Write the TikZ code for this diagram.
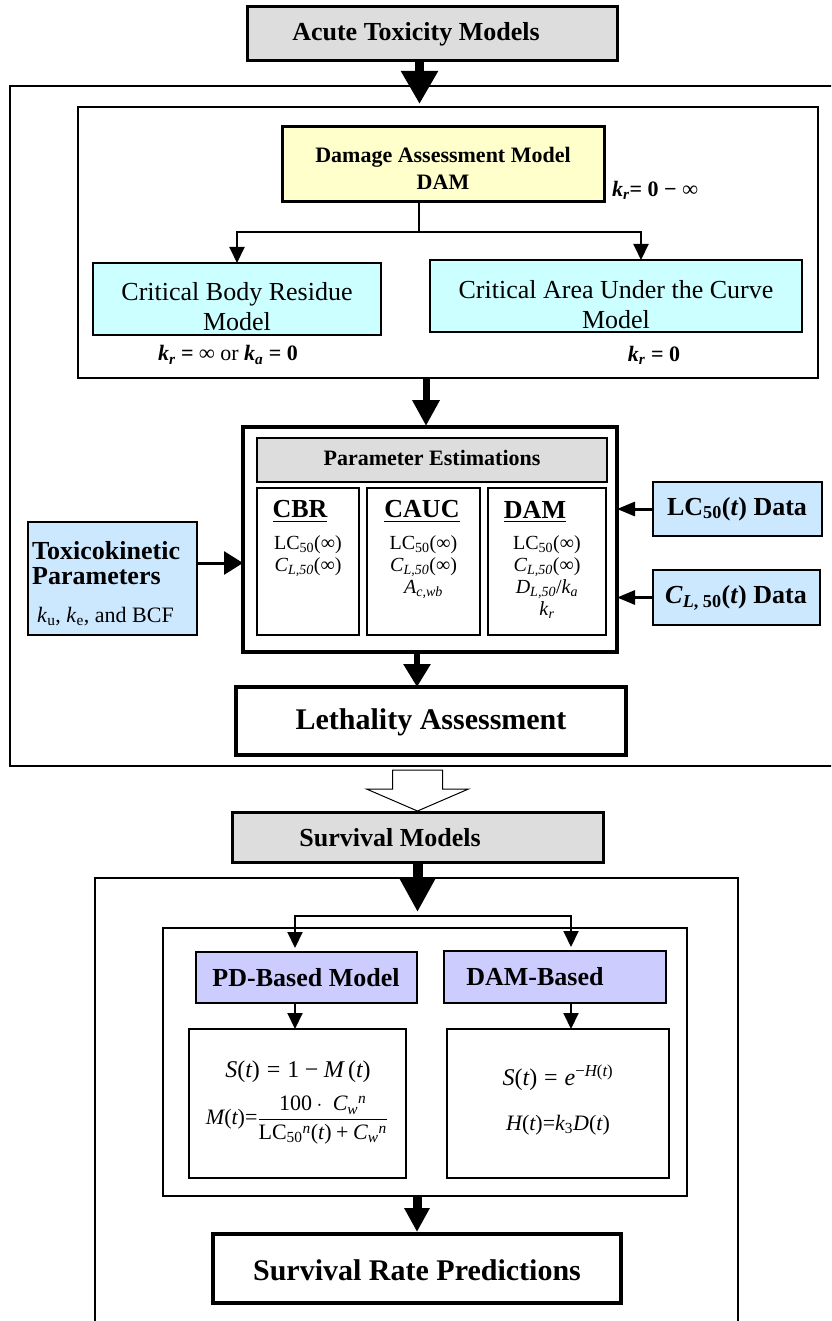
\documentclass[tikz,border=0pt]{standalone}
\usepackage{amsmath}
\usepackage{fontspec}
\setmainfont{Liberation Serif}
\usetikzlibrary{arrows.meta,calc}
\definecolor{boxgray}{RGB}{221,221,221}
\definecolor{boxyellow}{RGB}{255,255,204}
\definecolor{boxcyan}{RGB}{204,255,255}
\definecolor{boxblue}{RGB}{204,232,255}
\definecolor{boxlav}{RGB}{204,204,255}
\newcommand{\fs}[2]{\fontsize{#1}{#2}\selectfont}
\newcommand{\tu}[1]{\text{\upshape #1}}
\tikzset{
  box/.style={draw, inner sep=0pt, outer sep=0pt},
  txt/.style={inner sep=0pt, outer sep=0pt, align=center},
  conn/.style={line width=2pt},
  arrS/.style={-{Triangle[width=15pt,length=16pt]}},
  side/.style={line width=3pt},
}
\begin{document}
\begin{tikzpicture}[x=1pt,y=-1pt]
\useasboundingbox (0,0) rectangle (831,1321);
\begin{scope}
\clip (0,0) rectangle (831,1321);
% ---------- upper part ----------
\node[box, line width=3pt, fill=boxgray, minimum width=370pt, minimum height=54pt] (acute) at (432,34) {};
\node[txt, font=\fs{26}{30}\bfseries] (acuteT) at (416,34) {Acute Toxicity Models};

\node[box, line width=2pt, minimum width=850pt, minimum height=680pt] (frameA) at (435,426) {};
\node[box, line width=1.6pt, minimum width=740pt, minimum height=271pt] (frameB) at (448,242.5) {};

\draw[line width=9pt, -{Triangle[width=35pt,length=33pt]}, shorten >=3pt] ([xshift=-12.5pt]acute.south) -- ([xshift=-28.5pt]frameB.north);

\node[box, line width=3pt, fill=boxyellow, minimum width=322pt, minimum height=75pt] (dam) at (443,164.5) {};
\node[txt, font=\fs{22}{27}\bfseries] (damT) at (443,168) {Damage Assessment Model\\DAM};
\node[txt, font=\fs{22}{26}\bfseries] (krA) at (655,190) {\textit{k}\textsubscript{\textit{r}}= 0 − ∞};

\node[box, line width=2pt, fill=boxcyan, minimum width=288pt, minimum height=72pt] (cbr) at (237,299) {};
\node[txt, font=\fs{26}{30}] (cbrT) at (237,307) {Critical Body Residue\\Model};
\node[box, line width=2pt, fill=boxcyan, minimum width=372pt, minimum height=72pt] (cauc) at (616,296) {};
\node[txt, font=\fs{26}{30}] (caucT) at (616,305) {Critical Area Under the Curve\\Model};
\node[txt, font=\fs{22}{26}\bfseries] (krB) at (228,355) {\textit{k}\textsubscript{\textit{r}} = ∞ \textmd{or} \textit{k}\textsubscript{\textit{a}} = 0};
\node[txt, font=\fs{22}{26}\bfseries] (krC) at (654,355) {\textit{k}\textsubscript{\textit{r}} = 0};

\draw[conn] ([xshift=-24pt]dam.south) -- ++(0,30) coordinate (dj);
\draw[conn, arrS] (dj) -| (cbr.north);
\draw[conn, arrS] (dj) -| ([xshift=25pt]cauc.north);

% parameter estimation block
\node[box, line width=4pt, minimum width=374pt, minimum height=225pt] (param) at (430,539.5) {};
\node[box, line width=1.5pt, fill=boxgray, minimum width=350pt, minimum height=44pt] (pest) at (432,460) {};
\node[txt, font=\fs{22}{26}\bfseries] (pestT) at (432,458) {Parameter Estimations};
\node[box, line width=2.5pt, minimum width=102pt, minimum height=147pt] (subA) at (308,561.5) {};
\node[box, line width=2.5pt, minimum width=113pt, minimum height=147pt] (subB) at (423.5,561.5) {};
\node[box, line width=2.5pt, minimum width=118pt, minimum height=147pt] (subC) at (547,561.5) {};
\node[txt, font=\fs{26}{30}\bfseries] (hA) at (300,512) {\underline{CBR}};
\node[txt, font=\fs{26}{30}\bfseries] (hB) at (422,512) {\underline{CAUC}};
\node[txt, font=\fs{26}{30}\bfseries] (hC) at (535,512) {\underline{DAM}};
\node[txt, font=\fs{20}{22}, anchor=north] (cA) at (308,536) {LC\textsubscript{50}(∞)\\\textit{C}\textsubscript{\textit{L,50}}(∞)};
\node[txt, font=\fs{20}{22}, anchor=north] (cB) at (423.5,536) {LC\textsubscript{50}(∞)\\\textit{C}\textsubscript{\textit{L,50}}(∞)\\\textit{A}\textsubscript{\textit{c,wb}}};
\node[txt, font=\fs{20}{22}, anchor=north] (cC) at (547,536) {LC\textsubscript{50}(∞)\\\textit{C}\textsubscript{\textit{L,50}}(∞)\\\textit{D}\textsubscript{\textit{L,50}}/\textit{k}\textsubscript{\textit{a}}\\\textit{k}\textsubscript{\textit{r}}};

\draw[line width=7pt, -{Triangle[width=26pt,length=26pt]}, shorten >=1pt] ([xshift=-22pt]frameB.south) -- ([xshift=-4pt]param.north);

% toxicokinetic
\node[box, line width=1.5pt, fill=boxblue, minimum width=169pt, minimum height=113pt] (toxi) at (112.5,578.5) {};
\node[inner sep=0pt, anchor=base west, font=\fs{26}{30}\bfseries] (toxiA) at (32,559) {Toxicokinetic};
\node[inner sep=0pt, anchor=base west, font=\fs{26}{30}\bfseries] (toxiB) at (32,584) {Parameters};
\node[inner sep=0pt, anchor=base west, font=\fs{22}{26}] (toxiC) at (37,622) {\textit{k}\textsubscript{u}, \textit{k}\textsubscript{e}, and BCF};
\draw[side, -{Triangle[width=23pt,length=19pt]}] ([yshift=15.5pt]toxi.east) -- ([yshift=15.5pt]toxi.east -| param.west);

% data boxes
\node[box, line width=1.5pt, fill=boxblue, minimum width=169pt, minimum height=54pt] (lcd) at (737.5,509) {};
\node[txt, font=\fs{26}{30}\bfseries] (lcdT) at (737,509) {LC\textsubscript{50}(\textit{t}) Data};
\node[box, line width=1.5pt, fill=boxblue, minimum width=167pt, minimum height=55pt] (cld) at (736.5,597.5) {};
\node[txt, font=\fs{26}{30}\bfseries] (cldT) at (736,598) {\textit{C}\textsubscript{\textit{L}, 50}(\textit{t}) Data};
\draw[side, -{Triangle[width=14pt,length=18pt]}] (lcd.west) -- (lcd.west -| param.east);
\draw[side, -{Triangle[width=14pt,length=18pt]}] (cld.west) -- (cld.west -| param.east);

% lethality
\node[box, line width=4pt, minimum width=390pt, minimum height=68pt] (leth) at (431,721) {};
\node[txt, font=\fs{30}{34}\bfseries] (lethT) at (431,722) {Lethality Assessment};
\draw[line width=6pt, -{Triangle[width=26pt,length=23pt]}] ([xshift=-13pt]param.south) -- ([xshift=-14pt]leth.north);

% ---------- lower part ----------
\node[box, line width=3pt, fill=boxgray, minimum width=371pt, minimum height=50pt] (survm) at (417.5,837) {};
\node[txt, font=\fs{26}{30}\bfseries] (survmT) at (390,838) {Survival Models};
\draw[line width=1pt, fill=white]
  ($(survm.north)+(-25,-42)$) -- ($(survm.north)+(25,-42)$) -- ($(survm.north)+(25,-23)$)
  -- ($(survm.north)+(51,-23)$) -- ($(survm.north)+(0,-1)$) -- ($(survm.north)+(-51,-23)$)
  -- ($(survm.north)+(-25,-23)$) -- cycle;

\node[box, line width=2pt, minimum width=643pt, minimum height=600pt] (frameC) at (416.5,1178) {};
\node[box, line width=1.5pt, minimum width=524pt, minimum height=268pt] (frameD) at (425,1062) {};

\node[box, line width=2.5pt, fill=boxlav, minimum width=221pt, minimum height=51pt] (pd) at (306.5,977.5) {};
\node[txt, font=\fs{26}{30}\bfseries] (pdT) at (306,978) {PD-Based Model};
\node[box, line width=2.5pt, fill=boxlav, minimum width=222pt, minimum height=52pt] (damb) at (555,977) {};
\node[txt, font=\fs{26}{30}\bfseries] (dambT) at (535,977) {DAM-Based};

\coordinate (sj) at ([yshift=-54pt]survm.south);
\draw[line width=10pt, -{Triangle[width=33pt,length=33pt]}, shorten >=4pt] (survm.south) -- (sj);
\draw[conn, arrS, shorten >=4pt] (sj) -| ([xshift=-11.5pt]pd.north);
\draw[conn, arrS, shorten >=4pt] (sj) -| ([xshift=16pt]damb.north);

\node[box, line width=2pt, minimum width=217pt, minimum height=149pt] (fA) at (297.5,1103.5) {};
\node[box, line width=2pt, minimum width=222pt, minimum height=149pt] (fB) at (558,1103.5) {};
\draw[conn, arrS] ([xshift=-11.5pt]pd.south) -- ([xshift=-11.5pt]pd.south |- fA.north);
\draw[conn, arrS] ([xshift=16pt]damb.south) -- ([xshift=16pt]damb.south |- fB.north);

\node[txt, font=\fs{24}{28}] (fA1) at (298,1072) {$\mathit{S}\tu{(}\mathit{t}\tu{)} \mathrel{\tu{=}} \tu{1} \mathbin{\tu{−}} \mathit{M}\,\tu{(}\mathit{t}\tu{)}$};
\node[txt, font=\fs{22}{26}] (fA2) at (297,1120) {$\mathit{M}\tu{(}\mathit{t}\tu{)}\tu{=}\dfrac{\tu{100}\cdot\; \mathit{C}_{\mathit{w}}{}^{\mathit{n}}}{\tu{LC}_{\tu{50}}{}^{\mathit{n}}\tu{(}\mathit{t}\tu{)} \mathbin{\tu{+}} \mathit{C}_{\mathit{w}}{}^{\mathit{n}}}$};
\node[txt, font=\fs{24}{28}] (fB1) at (558,1078) {$\mathit{S}\tu{(}\mathit{t}\tu{)} \mathrel{\tu{=}} \mathit{e}^{\tu{−}\mathit{H}\tu{(}\mathit{t}\tu{)}}$};
\node[txt, font=\fs{22}{26}] (fB2) at (558,1125) {$\mathit{H}\tu{(}\mathit{t}\tu{)}\tu{=}\mathit{k}_{\tu{3}}\mathit{D}\tu{(}\mathit{t}\tu{)}$};

\node[box, line width=4pt, minimum width=408pt, minimum height=69pt] (srp) at (417,1268.5) {};
\node[txt, font=\fs{30}{34}\bfseries] (srpT) at (417,1270) {Survival Rate Predictions};
\draw[line width=9pt, -{Triangle[width=24pt,length=24pt]}, shorten >=2pt] ([xshift=-8pt]frameD.south) -- ([xshift=-8pt]frameD.south |- srp.north);
\end{scope}
\end{tikzpicture}
\end{document}
